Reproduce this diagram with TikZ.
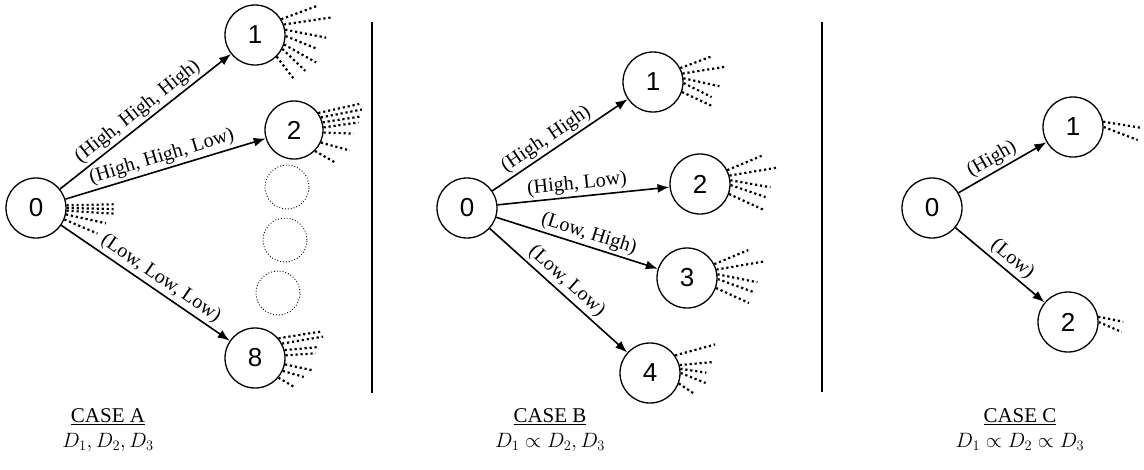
\documentclass[tikz,border=0pt]{standalone}
\usepackage{fontspec}
\setmainfont{Liberation Serif}
\newfontfamily\numfont{Liberation Sans}
\usetikzlibrary{arrows.meta}
\begin{document}
\begin{tikzpicture}[x=1pt,y=-1pt,
 st/.style={circle,draw,line width=1.3pt,minimum size=60pt,inner sep=0pt,font=\numfont\fontsize{26}{26}\selectfont},
 ghost/.style={circle,draw,dotted,line width=0.9pt,minimum size=44pt},
 edge/.style={line width=1.6pt,-{Latex[length=12pt,width=9pt]}},
 lab/.style={sloped,above,font=\fontsize{20}{20}\selectfont,inner sep=2.5pt},
 ray/.style={line width=2.2pt,dash pattern=on 2.2pt off 2.8pt},
 sepline/.style={line width=1.2pt},
 caselab/.style={font=\fontsize{21}{23}\selectfont,inner sep=0pt}]
\useasboundingbox (0,0) rectangle (1144,469);

% ---------- CASE A ----------
\node[st] (A0) at (36,208) {0};
\node[st] (A1) at (255,35) {1};
\node[st,minimum size=58pt] (A2) at (294,130) {2};
\node[ghost] (G1) at (287,187) {};
\node[ghost] (G2) at (285,240) {};
\node[ghost] (G3) at (278,293) {};
\node[st] (A8) at (255,358) {8};

\draw[edge] (A0) -- node[lab,pos=0.5] {(High, High, High)} (A1);
\draw[edge] (A0) -- node[lab,pos=0.5] {(High, High, Low)} (A2);
\draw[edge] (A0) -- node[lab,pos=0.55] {(Low, Low, Low)} (A8);

% rays A0
\draw[ray] (A0.5) -- ++(47,-1);
\draw[ray] (A0.0) -- ++(47,1);
\draw[ray] (A0.-5) -- ++(47,3);
\draw[ray] (A0.-12) -- ++(40,9);
\draw[ray] (A0.-22) -- ++(33,14);
% rays A1
\draw[ray] (A1.31) -- ++(35,-13);
\draw[ray] (A1.20) -- ++(47,-7);
\draw[ray] (A1.10) -- ++(41,8);
\draw[ray] (A1.-2) -- ++(32,13);
\draw[ray] (A1.-18) -- ++(32,18);
\draw[ray] (A1.-27) -- ++(23,22);
\draw[ray] (A1.-45) -- ++(17,22);
% rays A2
\draw[ray] (A2.35) -- ++(41,-9);
\draw[ray] (A2.25) -- ++(41,-8);
\draw[ray] (A2.15) -- ++(39,-6);
\draw[ray] (A2.5) -- ++(35,-5);
\draw[ray] (A2.-5) -- ++(30,1);
\draw[ray] (A2.-25) -- ++(29,8);
\draw[ray] (A2.-45) -- ++(21,12);
% rays A8
\draw[ray] (A8.40) -- ++(44,-7);
\draw[ray] (A8.28) -- ++(41,-7);
\draw[ray] (A8.15) -- ++(34,-3);
\draw[ray] (A8.5) -- ++(30,-2);
\draw[ray] (A8.-12) -- ++(28,6);
\draw[ray] (A8.-25) -- ++(21,6);
\draw[ray] (A8.-40) -- ++(17,10);

\coordinate (S1a) at (372,22);
\coordinate (S1b) at (372,393);
\draw[sepline] (S1a) -- (S1b);

% ---------- CASE B ----------
\node[st] (B0) at (467,208) {0};
\node[st] (B1) at (653,82) {1};
\node[st] (B2) at (700,184) {2};
\node[st] (B3) at (687,278) {3};
\node[st] (B4) at (650,373) {4};

\draw[edge] (B0) -- node[lab,pos=0.45] {(High, High)} (B1);
\draw[edge] (B0) -- node[lab,pos=0.47] {(High, Low)} (B2);
\draw[edge] (B0) -- node[lab,pos=0.55] {(Low, High)} (B3);
\draw[edge] (B0) -- node[lab,pos=0.5] {(Low, Low)} (B4);

% rays B1
\draw[ray] (B1.27) -- ++(32,-12);
\draw[ray] (B1.16) -- ++(44,-7);
\draw[ray] (B1.7) -- ++(36,8);
\draw[ray] (B1.-2) -- ++(28,14);
\draw[ray] (B1.-19) -- ++(30,14);
% rays B2
\draw[ray] (B2.27) -- ++(36,-15);
\draw[ray] (B2.16) -- ++(48,-8);
\draw[ray] (B2.7) -- ++(40,7);
\draw[ray] (B2.-2) -- ++(35,12);
\draw[ray] (B2.-19) -- ++(35,16);
% rays B3
\draw[ray] (B3.27) -- ++(34,-14);
\draw[ray] (B3.16) -- ++(47,-8);
\draw[ray] (B3.7) -- ++(40,8);
\draw[ray] (B3.-2) -- ++(36,13);
\draw[ray] (B3.-19) -- ++(33,15);
% rays B4
\draw[ray] (B4.35) -- ++(40,-11);
\draw[ray] (B4.15) -- ++(33,-3);
\draw[ray] (B4.8) -- ++(26,4);
\draw[ray] (B4.0) -- ++(25,10);
\draw[ray] (B4.-20) -- ++(15,10);

\coordinate (S2a) at (822,22);
\coordinate (S2b) at (822,392);
\draw[sepline] (S2a) -- (S2b);

% ---------- CASE C ----------
\node[st] (C0) at (932,208) {0};
\node[st] (C1) at (1073,127) {1};
\node[st] (C2) at (1068,322) {2};

\draw[edge] (C0) -- node[lab,pos=0.45] {(High)} (C1);
\draw[edge] (C0) -- node[lab,pos=0.55] {(Low)} (C2);

\draw[ray] (C1.10) -- ++(37,6);
\draw[ray] (C1.0) -- ++(34,13);
\draw[ray] (C2.10) -- ++(25,5);
\draw[ray] (C2.0) -- ++(23,10);

% ---------- captions ----------
\node[caselab] (tA) at (108,417) {\underline{CASE A}};
\node[caselab] (dA) at (108,442) {$D_1, D_2, D_3$};
\node[caselab] (tB) at (550,417) {\underline{CASE B}};
\node[caselab] (dB) at (550,442) {$D_1 \propto D_2, D_3$};
\node[caselab] (tC) at (1020,417) {\underline{CASE C}};
\node[caselab] (dC) at (1020,442) {$D_1 \propto D_2 \propto D_3$};
\end{tikzpicture}
\end{document}
